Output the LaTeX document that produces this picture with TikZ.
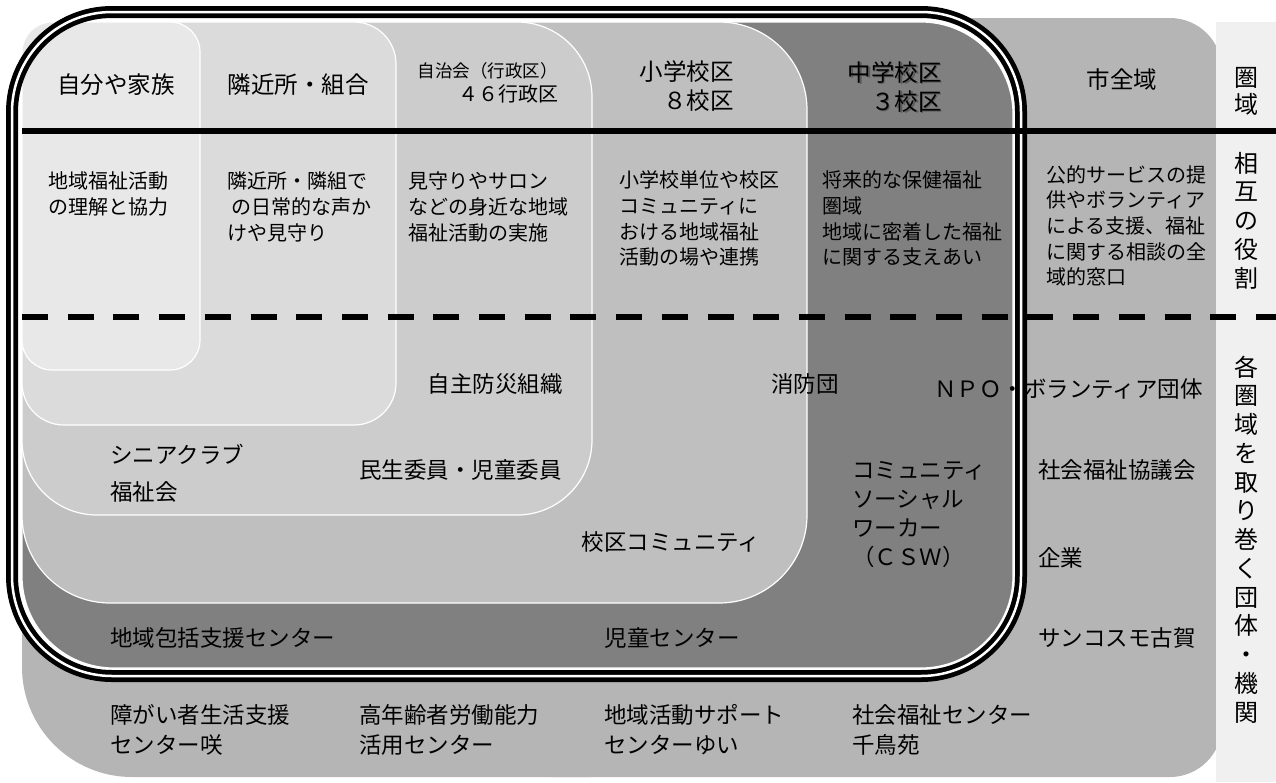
\documentclass[tikz,border=0pt]{standalone}
\usepackage{fontspec}
\setmainfont{Noto Sans CJK JP}
\usepackage{tikz}

\begin{document}
\begin{tikzpicture}[x=1pt,y=-1pt]
		\useasboundingbox (0,0) rectangle (1276,782);
		\tikzstyle{region}=[draw=white,line width=1.2pt]
		\tikzstyle{head}=[inner sep=0pt,anchor=base,font=\fontsize{23.5}{29}\selectfont]
		\tikzstyle{role}=[inner sep=0pt,anchor=base west,align=left,font=\fontsize{20}{25.7}\selectfont]
		\tikzstyle{group}=[inner sep=0pt,anchor=base west,align=left,font=\fontsize{22.5}{30}\selectfont]
		\tikzstyle{side}=[inner sep=0pt,anchor=base,font=\fontsize{24}{24}\selectfont]
		\fill[black!29,rounded corners=110pt] (22,18) rectangle (700,777);
		\fill[black!29,rounded corners=52pt] (500,18) rectangle (1222,777);
		\fill[black!6] (1216,22) rectangle (1276,782);
		\fill[white,rounded corners=100pt] (12,12) rectangle (1021,676);
		\filldraw[region,fill=black!50,rounded corners=92pt] (22,22) rectangle (1013,668);
		\filldraw[region,fill=black!25,rounded corners=88pt] (22,22) rectangle (807,603);
		\filldraw[region,fill=black!20,rounded corners=75pt] (22,22) rectangle (592,515);
		\filldraw[region,fill=black!14,rounded corners=42pt] (22,22) rectangle (396,425);
		\filldraw[region,fill=black!9,rounded corners=30pt] (22,22) rectangle (200,370);
		\node[head] (h_1) at (116,93) {自分や家族};
		\node[head] (h_2) at (298,93) {隣近所・組合};
		\node[head,anchor=base east,font=\fontsize{17.5}{20}\selectfont] (h_3) at (558,77) {自治会（行政区）};
		\node[head,anchor=base east,font=\fontsize{20}{24}\selectfont] (h_4) at (559,101.5) {４６行政区};
		\node[head,anchor=base east,align=right] (h_5) at (734,109) {小学校区\\８校区};
		\node[head,anchor=base east,align=right,text=black,opacity=.3] (h_6s) at (943.5,111.5) {中学校区\\３校区};
		\node[head,anchor=base east,align=right] (h_6) at (942,110) {中学校区\\３校区};
		\node[head] (h_7) at (1122,88) {市全域};
		\node[role] (r_1) at (48,214.3) {地域福祉活動\\の理解と協力};
		\node[role] (r_2) at (227,240) {隣近所・隣組で\\\hspace*{4pt}の日常的な声か\\けや見守り};
		\node[role] (r_3) at (408,240) {見守りやサロン\\などの身近な地域\\福祉活動の実施};
		\node[role] (r_4) at (619,264.7) {小学校単位や校区\\コミュニティに\\おける地域福祉\\活動の場や連携};
		\node[role] (r_5) at (822,264.7) {将来的な保健福祉\\圏域\\地域に密着した福祉\\に関する支えあい};
		\node[role] (r_6) at (1046,284.8) {公的サービスの提\\供やボランティア\\による支援、福祉\\に関する相談の全\\域的窓口};
		\node[group,anchor=base] (g_1) at (495,392) {自主防災組織};
		\node[group,anchor=base] (g_2) at (805,392) {消防団};
		\node[group] (g_3) at (934,397) {ＮＰＯ・ボランティア団体};
		\node[group,font=\fontsize{22.5}{37}\selectfont] (g_4) at (110,500.5) {シニアクラブ\\福祉会};
		\node[group] (g_5) at (359,478.5) {民生委員・児童委員};
		\node[group,anchor=base] (g_6) at (671,550.5) {校区コミュニティ};
		\node[group,font=\fontsize{22.5}{29}\selectfont] (g_7) at (852,565.5) {コミュニティ\\ソーシャル\\ワーカー\\（ＣＳＷ）};
		\node[group] (g_8) at (1038,478.5) {社会福祉協議会};
		\node[group] (g_9) at (1038,566.5) {企業};
		\node[group] (g_10) at (1038,646.5) {サンコスモ古賀};
		\node[group] (g_11) at (110,646.5) {地域包括支援センター};
		\node[group,anchor=base] (g_12) at (672,646.5) {児童センター};
		\node[group] (g_13) at (110,753.5) {障がい者生活支援\\センター咲};
		\node[group] (g_14) at (359,753.5) {高年齢者労働能力\\活用センター};
		\node[group] (g_15) at (604,753.5) {地域活動サポート\\センターゆい};
		\node[group] (g_16) at (852,753.5) {社会福祉センター\\千鳥苑};
		\foreach \c [count=\i] in {圏,域}
			\node[side] (k_\i) at (1246,59+27*\i) {\c};
		\foreach \c [count=\i] in {相,互,の,役,割}
			\node[side] (s_\i) at (1246,143.25+28.75*\i) {\c};
		\foreach \c [count=\i] in {各,圏,域,を,取,り,巻,く,団,体,・,機,関}
			\node[side] (m_\i) at (1246,347.25+28.75*\i) {\c};
		\draw[line width=12pt,rounded corners=100pt] (12,12) rectangle (1021,676);
		\draw[white,line width=2.5pt,rounded corners=100pt] (12,12) rectangle (1021,676);
		\draw[line width=5.5pt] (22,131) -- (1276,131);
		\draw[line width=6pt,dash pattern=on 26pt off 19.7pt] (22,317) -- (1276,317);
	\end{tikzpicture}
\end{document}
